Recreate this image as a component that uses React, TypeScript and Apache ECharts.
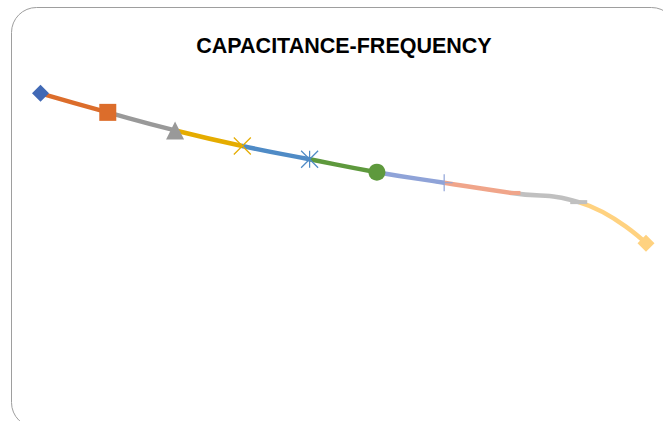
import React, { useEffect, useRef } from "react";
import * as echarts from "echarts";

// Measurement frequencies (category axis, hidden)
const frequencies = ["100", "200", "500", "1k", "2k", "5k", "10k", "20k", "50k", "100k"];
// Capacitance readings per frequency
const capacitance = [9.02, 8.46, 7.93, 7.47, 7.08, 6.7, 6.39, 6.09, 5.82, 4.61];
// Per-point colours (the segment ending at a point takes that point's colour)
const pointColors = [
  "#4169B5", "#DC6D2B", "#999999", "#E5AC00", "#4F8BC6",
  "#5E993D", "#8FA3D8", "#F0A58A", "#C0C0C0", "#FFD280",
];
const pointSymbols = [
  "diamond", "rect", "triangle",
  "path://M0,0L10,10M10,0L0,10",
  "path://M0,0L10,10M10,0L0,10M5,0L5,10",
  "circle",
  "path://M5,0L5,10M0,5L10,5",
  "rect", "rect", "diamond",
];
const pointSizes: (number | number[])[] = [17, 17, 18, 17, 17, 17, 17, [10, 4], [17, 4], 17];
const strokeOnly = [false, false, false, true, true, false, true, false, false, false];
const TITLE = "CAPACITANCE-FREQUENCY";

export default function App() {
  const ref = useRef<HTMLDivElement>(null);

  useEffect(() => {
    if (!ref.current) return;
    const chart = echarts.init(ref.current, null, { renderer: "svg" });

    const pieces = capacitance.map((_, i) =>
      i === 0
        ? { lte: 0, color: pointColors[0] }
        : { gt: i - 1, lte: i, color: pointColors[i] }
    );

    const markerData = capacitance.map((v, i) => ({
      value: v,
      symbol: pointSymbols[i],
      symbolSize: pointSizes[i],
      symbolOffset: i === 7 ? [4, 0] : [0, 0],
      itemStyle: strokeOnly[i]
        ? { color: "rgba(0,0,0,0)", borderColor: pointColors[i], borderWidth: 1.2 }
        : { color: pointColors[i], borderWidth: 0 },
    }));

    chart.setOption({
      animation: false,
      backgroundColor: "#ffffff",
      grid: { left: 40.5, right: 17, top: 60, bottom: 21 },
      xAxis: {
        type: "category",
        data: frequencies,
        boundaryGap: false,
        show: false,
      },
      yAxis: { type: "value", min: 0, max: 10, show: false },
      visualMap: {
        show: false,
        type: "piecewise",
        seriesIndex: 0,
        dimension: 0,
        pieces,
      },
      graphic: [
        {
          type: "rect",
          shape: { x: 11.5, y: 7.5, width: 665, height: 420, r: 25 },
          style: { fill: "none", stroke: "#9E9E9E", lineWidth: 1 },
          z: 0,
        },
        {
          type: "text",
          x: 344,
          y: 46,
          style: {
            text: TITLE,
            fontFamily: "Liberation Sans",
            fontWeight: "bold",
            fontSize: 21.5,
            fill: "#000000",
            textAlign: "center",
            textVerticalAlign: "middle",
          },
        },
      ],
      series: [
        {
          type: "line",
          data: capacitance,
          smooth: 0.5,
          showSymbol: false,
          lineStyle: { width: 4.5 },
          z: 2,
        },
        {
          type: "line",
          data: markerData,
          lineStyle: { width: 0, opacity: 0 },
          showSymbol: true,
          z: 3,
        },
      ],
    });

    return () => chart.dispose();
  }, []);

  return (
    <div
      ref={ref}
      style={{ position: "absolute", left: 0, top: 0, width: 663, height: 421 }}
    />
  );
}
